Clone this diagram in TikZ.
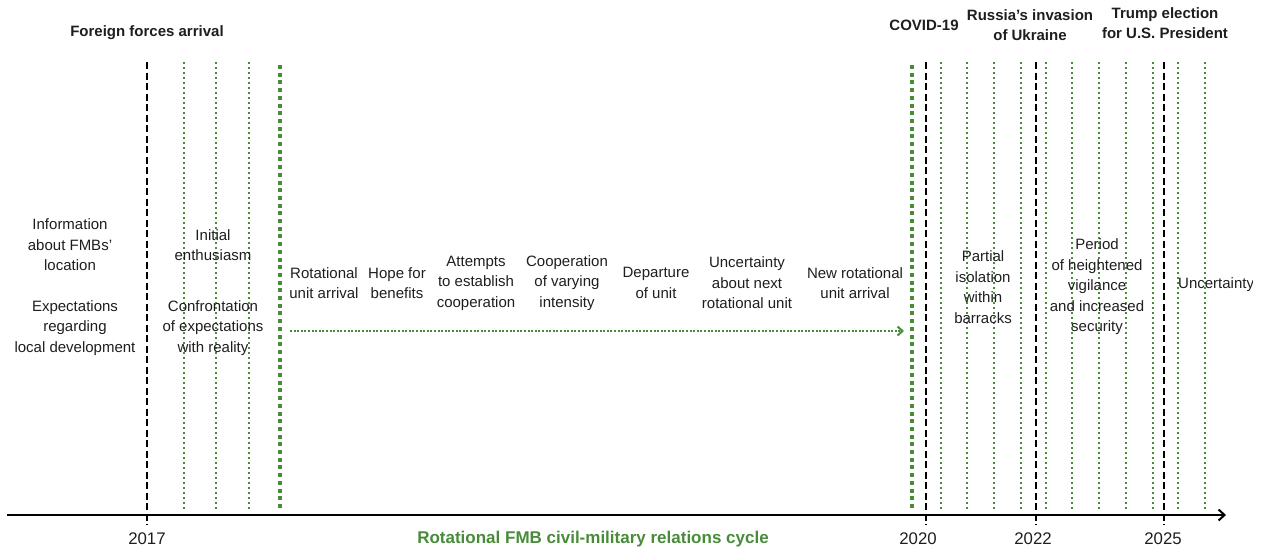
\documentclass[tikz,border=0pt]{standalone}
\usepackage{fontspec}
\setmainfont{Liberation Sans}
\usepackage{xcolor}
\usetikzlibrary{arrows.meta}
\definecolor{fmbgreen}{RGB}{72,140,58}
\definecolor{inkgray}{RGB}{30,30,30}
\tikzset{
blackdash/.style={draw=black, line width=2.4pt, dash pattern=on 7pt off 3.5pt},
greendot/.style={draw=fmbgreen, line width=2.2pt, dash pattern=on 2.2pt off 2.8pt},
greenthick/.style={draw=fmbgreen, line width=3.6pt, dash pattern=on 4pt off 3.7pt},
eventlabel/.style={text=inkgray, align=center, inner sep=0pt, font=\fontsize{15}{20.5}\selectfont\bfseries},
phaselabel/.style={text=inkgray, align=center, inner sep=0pt, font=\fontsize{15}{20.5}\selectfont},
yearlabel/.style={text=inkgray, inner sep=0pt, font=\fontsize{16.8}{20}\selectfont},
}

\begin{document}
\begin{tikzpicture}[x=1pt,y=-1pt]
\useasboundingbox (0,0) rectangle (1265,552);
%timeline axis
\coordinate (axisstart) at (7,515);
\coordinate (axisend) at (1226,515);
\draw[black, line width=2pt, -{Straight Barb[length=6pt,width=11pt,line width=2pt]}] (axisstart) -- (axisend);
%yearly markers
\foreach \xx in {941,967,994,1021,1046,1072,1099,1126,1153,1178,1205,184,216,249}
  \draw[greendot] (\xx,62) -- (\xx,510);
\draw[greenthick] (280,65) -- (280,510);
\draw[greenthick] (912,65) -- (912,510);
\foreach \xx in {147,926,1036,1164}
  \draw[blackdash] (\xx,62) -- (\xx,525);
%events
\node[eventlabel] at (147,33) (foreign) {Foreign forces arrival};
\node[eventlabel] at (924,25) (covid) {COVID-19};
\node[eventlabel] at (1030,25) (russia) {Russia's invasion\\of Ukraine};
\node[eventlabel] at (1165,23) (trump) {Trump election\\for U.S. President};
%phases
\node[phaselabel] at (70,245) (info) {Information\\about FMBs'\\location};
\node[phaselabel] at (75,328) (expect) {Expectations\\regarding\\local development};
\node[phaselabel] at (213,245) (initial) {Initial\\enthusiasm};
\node[phaselabel] at (213,328) (confront) {Confrontation\\of expectations\\with reality};
\node[phaselabel] at (324,283) (rotarr) {Rotational\\unit arrival};
\node[phaselabel] at (397,283) (hope) {Hope for\\benefits};
\node[phaselabel] at (476,283) (attempts) {Attempts\\to establish\\cooperation};
\node[phaselabel] at (567,283) (coopvar) {Cooperation\\of varying\\intensity};
\node[phaselabel] at (656,283) (departure) {Departure\\of unit};
\node[phaselabel] at (747,283) (uncertnext) {Uncertainty\\about next\\rotational unit};
\node[phaselabel] at (855,283) (newrot) {New rotational\\unit arrival};
\node[phaselabel] at (983,287) (partial) {Partial\\isolation\\within\\barracks};
\node[phaselabel] at (1097,287) (period) {Period\\of heightened\\vigilance\\and increased\\security};
\begin{scope}
\clip (1170,265) rectangle (1252,305);
\node[phaselabel, anchor=west] at (1178,285) (uncert) {Uncertainty};
\end{scope}
%cycle arrow
\coordinate (cyclestart) at (290,331);
\coordinate (cycleend) at (904,331);
\draw[fmbgreen, line width=2pt, dash pattern=on 2pt off 1.6pt, -{Straight Barb[length=5pt,width=9pt,line width=2pt]}] (cyclestart) -- (cycleend);
%years
\node[yearlabel] at (147,539) (y2017) {2017};
\node[yearlabel] at (918,539) (y2020) {2020};
\node[yearlabel] at (1033,539) (y2022) {2022};
\node[yearlabel] at (1163,539) (y2025) {2025};
\node[eventlabel, text=fmbgreen, font=\fontsize{17}{20}\selectfont\bfseries] at (593,539) (cycle) {Rotational FMB civil-military relations cycle};
\end{tikzpicture}
\end{document}
